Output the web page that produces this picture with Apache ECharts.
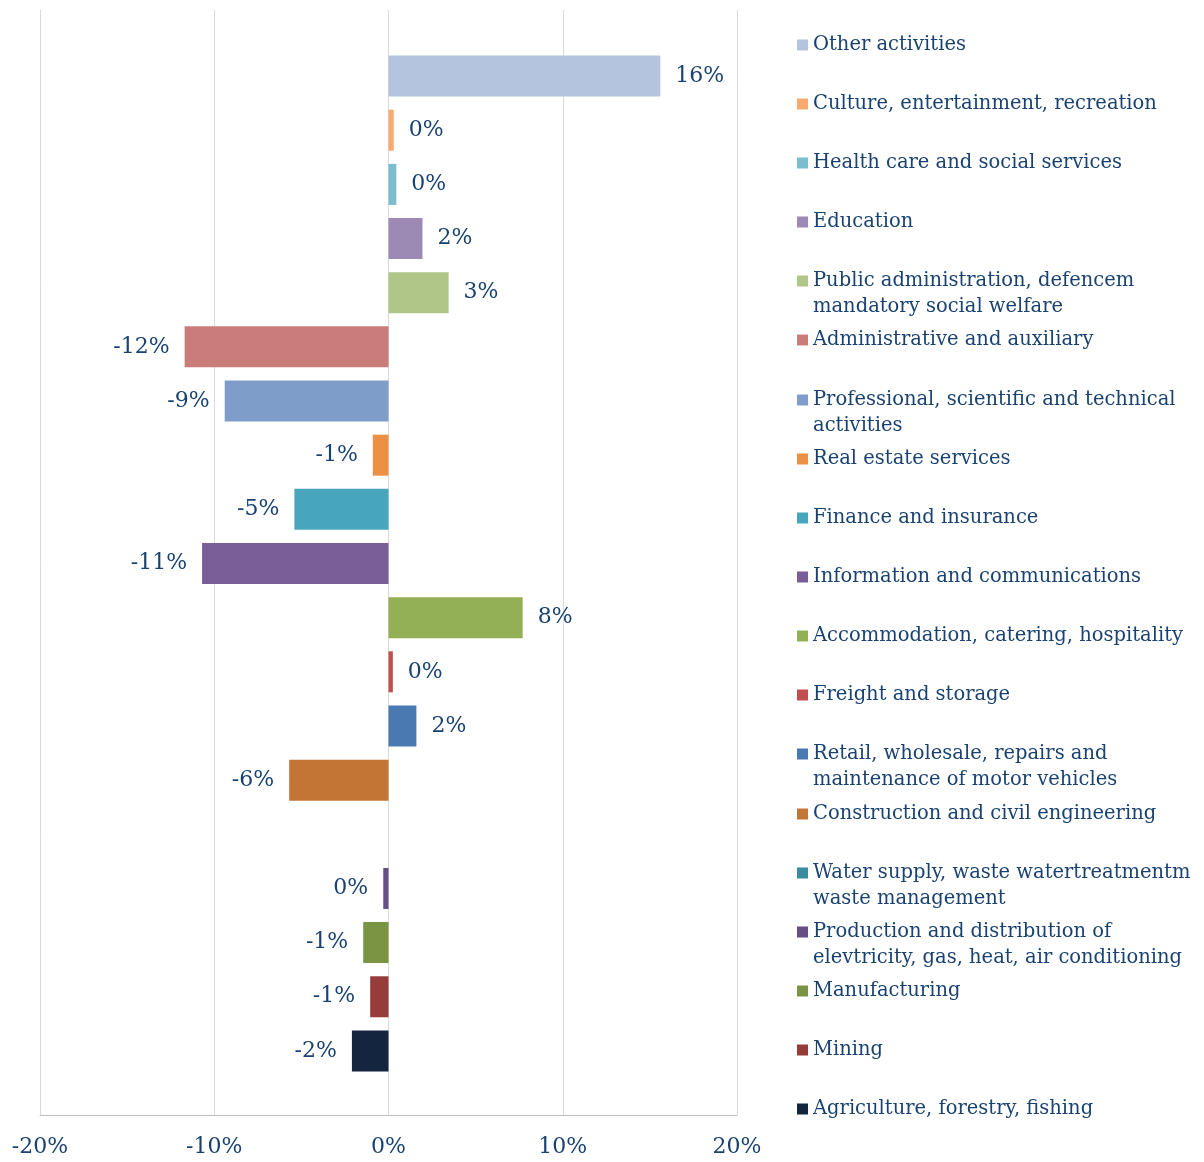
<!DOCTYPE html>
<html>
<head>
<meta charset="utf-8">
<script src="https://cdn.jsdelivr.net/npm/echarts@6/dist/echarts.min.js"></script>
<style>
html, body { margin: 0; padding: 0; background: #fff; }
#chart { width: 1204px; height: 1162px; }
</style>
</head>
<body>
<div id="chart"></div>
<script>
// categories, top to bottom (line breaks as in the legend)
var categories = [
    'Other activities',
    'Culture, entertainment, recreation',
    'Health care and social services',
    'Education',
    'Public administration, defencem\nmandatory social welfare',
    'Administrative and auxiliary',
    'Professional, scientific and technical\nactivities',
    'Real estate services',
    'Finance and insurance',
    'Information and communications',
    'Accommodation, catering, hospitality',
    'Freight and storage',
    'Retail, wholesale, repairs and\nmaintenance of motor vehicles',
    'Construction and civil engineering',
    'Water supply, waste watertreatmentm\nwaste management',
    'Production and distribution of\nelevtricity, gas, heat, air conditioning',
    'Manufacturing',
    'Mining',
    'Agriculture, forestry, fishing'
];

// change in % (Water supply has no bar)
var values = [15.6, 0.3, 0.45, 1.95, 3.45, -11.7, -9.4, -0.9, -5.4, -10.7,
              7.7, 0.25, 1.6, -5.7, null, -0.3, -1.45, -1.05, -2.1];

var colors = ['#b4c3de', '#f9a870', '#7bbcd1', '#9c89b4', '#afc688', '#ca7c7a',
              '#7f9dc9', '#ec9045', '#47a6bd', '#7a5e97', '#93b056', '#c0504d',
              '#4a78b0', '#c37536', '#3b8ba0', '#654f86', '#7a9444', '#963c3a',
              '#13253f'];

var xTicks = [-20, -10, 0, 10, 20];

var textColor = '#194271';
var fontName = 'DejaVu Serif';
var legendFont = 19.5;
var legendLine = 26;

var series = categories.map(function (name, i) {
    var data = categories.map(function (c, j) {
        if (j !== i || values[i] === null) return null;
        return {
            value: values[i],
            label: { position: values[i] < 0 ? 'left' : 'right' }
        };
    });
    return {
        name: name,
        type: 'bar',
        stack: 'all',
        xAxisIndex: 1,
        yAxisIndex: 1,
        barWidth: 41,
        itemStyle: { color: colors[i] },
        label: {
            show: true,
            distance: 15,
            color: textColor,
            fontFamily: fontName,
            fontSize: 22,
            formatter: function (p) { return Math.round(p.value) + '%'; }
        },
        data: data
    };
});

// one legend per entry so every entry starts on the same pitch;
// the second line of a wrapped name is added as plain text under it
var legends = [];
var extraLines = [];
categories.forEach(function (name, i) {
    var top = Math.round(44.5 + i * 59.14 - legendFont / 2);
    var parts = name.split('\n');
    legends.push({
        data: [name],
        orient: 'vertical',
        left: 797,
        top: top,
        padding: 0,
        icon: 'rect',
        itemWidth: 11,
        itemHeight: 11,
        formatter: function (n) { return n.split('\n')[0]; },
        textStyle: {
            color: textColor,
            fontFamily: fontName,
            fontSize: legendFont
        }
    });
    if (parts.length > 1) {
        extraLines.push({
            type: 'text',
            x: 813,
            y: top + legendFont / 2 + legendLine,
            silent: true,
            style: {
                text: parts[1],
                fill: textColor,
                font: legendFont + 'px "' + fontName + '"',
                verticalAlign: 'middle'
            }
        });
    }
});

var myChart = echarts.init(document.getElementById('chart'));
myChart.setOption({
    animation: false,
    backgroundColor: '#fff',
    legend: legends,
    graphic: extraLines,
    grid: [
        { left: 40, right: 467, top: 10, bottom: 47 },
        { left: 40, right: 467, top: 49, bottom: 84 }
    ],
    xAxis: [
        {
            gridIndex: 0,
            type: 'value',
            min: xTicks[0],
            max: xTicks[xTicks.length - 1],
            interval: 10,
            axisLine: { show: true, lineStyle: { color: '#bfbfbf', width: 1 } },
            axisTick: { show: false },
            splitLine: { show: true, lineStyle: { color: '#d9d9d9', width: 1 } },
            axisLabel: {
                margin: 21,
                color: textColor,
                fontFamily: fontName,
                fontSize: 22,
                formatter: '{value}%'
            }
        },
        {
            gridIndex: 1,
            type: 'value',
            min: xTicks[0],
            max: xTicks[xTicks.length - 1],
            show: false
        }
    ],
    yAxis: [
        { gridIndex: 0, type: 'value', show: false, splitLine: { show: false } },
        {
            gridIndex: 1,
            type: 'category',
            data: categories,
            inverse: true,
            show: false
        }
    ],
    series: series
});
window.onresize = myChart.resize;
</script>
</body>
</html>
